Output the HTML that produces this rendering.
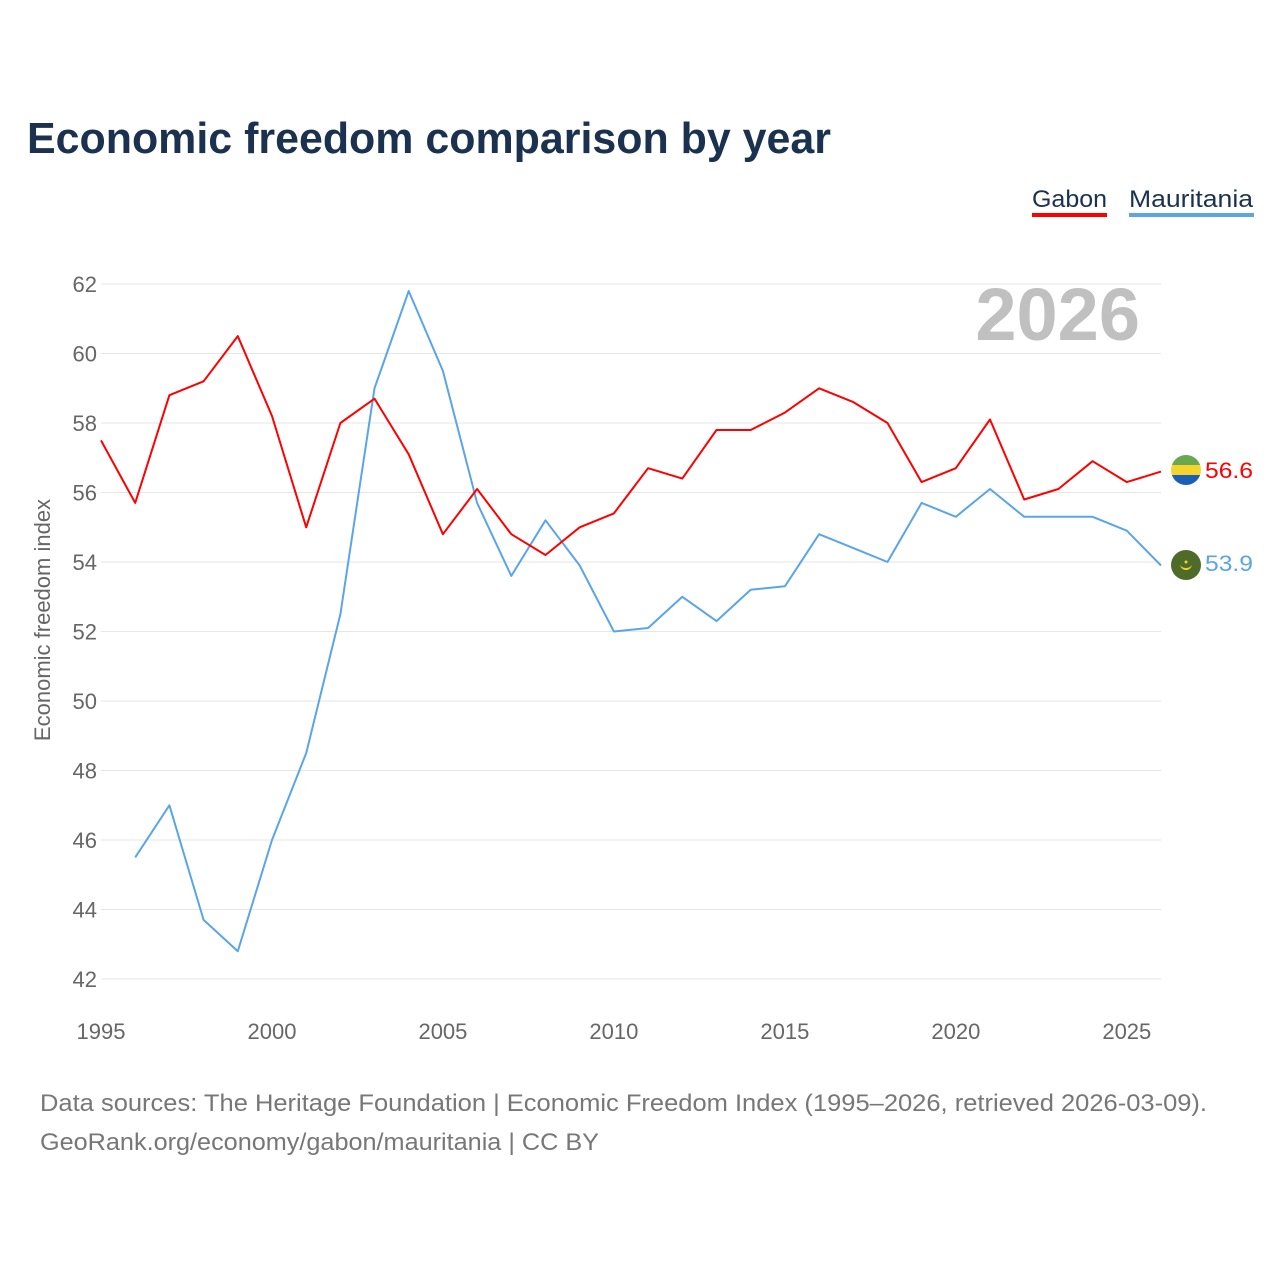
<!DOCTYPE html>
<html><head><meta charset="utf-8"><style>
body{margin:0;background:#fff;font-family:"Liberation Sans",sans-serif;}
#wrap{position:relative;width:1280px;height:1280px;overflow:hidden;}
</style></head><body>
<div id="wrap">
<svg id="chart" width="1280" height="1280">
<text x="27" y="153" font-size="44" font-weight="bold" fill="#1a3150" textLength="804" lengthAdjust="spacingAndGlyphs">Economic freedom comparison by year</text>
<g><text x="1032" y="207" font-size="24" fill="#1a3150" textLength="75" lengthAdjust="spacingAndGlyphs">Gabon</text><rect x="1032" y="213" width="75" height="4" fill="#ff0000"/></g>
<g><text x="1129" y="207" font-size="24" fill="#1a3150" textLength="124" lengthAdjust="spacingAndGlyphs">Mauritania</text><rect x="1129" y="213" width="125" height="4" fill="#5aa5e8"/></g>
<text x="1140" y="340" font-size="74" font-weight="bold" fill="#c0c0c0" text-anchor="end">2026</text>
<text transform="translate(50,620) rotate(-90)" font-size="22" fill="#666" text-anchor="middle">Economic freedom index</text>
<g id="grid"></g><g id="yt"></g><g id="xt"></g><g id="lines"></g>
<g>
<clipPath id="c1"><circle cx="1186" cy="470" r="15"/></clipPath>
<g clip-path="url(#c1)"><rect x="1171" y="455" width="30" height="10" fill="#6aa84f"/><rect x="1171" y="465" width="30" height="10" fill="#f6d32d"/><rect x="1171" y="475" width="30" height="10" fill="#1a5eb8"/></g></g>
<g><circle cx="1186" cy="565" r="15" fill="#4e6b2a"/><path d="M1180 564 a6 6 0 0 0 12 0 a6 4 0 0 1 -12 0z" fill="#f6d32d"/><circle cx="1186" cy="562" r="1.5" fill="#f6d32d"/></g>
<text x="1205" y="478" font-size="22" fill="#ff0000" textLength="48" lengthAdjust="spacingAndGlyphs">56.6</text>
<text x="1205" y="571" font-size="22" fill="#5aa5e8" textLength="48" lengthAdjust="spacingAndGlyphs">53.9</text>
<text x="40" y="1111" font-size="24" fill="#777" textLength="1167" lengthAdjust="spacingAndGlyphs">Data sources: The Heritage Foundation | Economic Freedom Index (1995–2026, retrieved 2026-03-09).</text>
<text x="40" y="1150" font-size="24" fill="#777" textLength="559" lengthAdjust="spacingAndGlyphs">GeoRank.org/economy/gabon/mauritania | CC BY</text>
</svg></div>
<script>
const years=[1995,1996,1997,1998,1999,2000,2001,2002,2003,2004,2005,2006,2007,2008,2009,2010,2011,2012,2013,2014,2015,2016,2017,2018,2019,2020,2021,2022,2023,2024,2025,2026];
const gabon=[57.5,55.7,58.8,59.2,60.5,58.2,55.0,58.0,58.7,57.1,54.8,56.1,54.8,54.2,55.0,55.4,56.7,56.4,57.8,57.8,58.3,59.0,58.6,58.0,56.3,56.7,58.1,55.8,56.1,56.9,56.3,56.6];
const mauritania=[null,45.5,47.0,43.7,42.8,46.0,48.5,52.5,59.0,61.8,59.5,55.7,53.6,55.2,53.9,52.0,52.1,53.0,52.3,53.2,53.3,54.8,54.4,54.0,55.7,55.3,56.1,55.3,55.3,55.3,54.9,53.9];
const yTicks=[42,44,46,48,50,52,54,56,58,60,62];
const xTicks=[1995,2000,2005,2010,2015,2020,2025];
const NS="http://www.w3.org/2000/svg";
const x=v=>101+(v-1995)*(1161-101)/31;
const y=v=>979-(v-42)*(979-284)/20;
function mk(t,a,p){const e=document.createElementNS(NS,t);for(const k in a)e.setAttribute(k,a[k]);document.getElementById(p).appendChild(e);return e;}
yTicks.forEach(t=>{
 const l=mk('line',{x1:101,x2:1161,y1:y(t),y2:y(t),stroke:'#e6e6e6','stroke-width':1},'grid');
 
 
 const tx=mk('text',{x:97,y:y(t)+8,'font-size':22,fill:'#666','text-anchor':'end'},'yt');tx.textContent=t;
 
 
});
xTicks.forEach(t=>{
 const tx=mk('text',{x:x(t),y:1039,'font-size':22,fill:'#666','text-anchor':'middle'},'xt');tx.textContent=t;
 
 
});
function line(data,color,name){
 let d='',pen=false;
 data.forEach((v,i)=>{if(v==null){pen=false;return;}d+=(pen?'L':'M')+x(years[i]).toFixed(1)+' '+y(v).toFixed(1);pen=true;});
 const p=mk('path',{d:d,fill:'none',stroke:color,'stroke-width':2,'stroke-linejoin':'round'},'lines');
 
 
}
line(mauritania,'#5aa5e8','mauritania-line');
line(gabon,'#ff0000','gabon-line');
</script>
</body></html>
